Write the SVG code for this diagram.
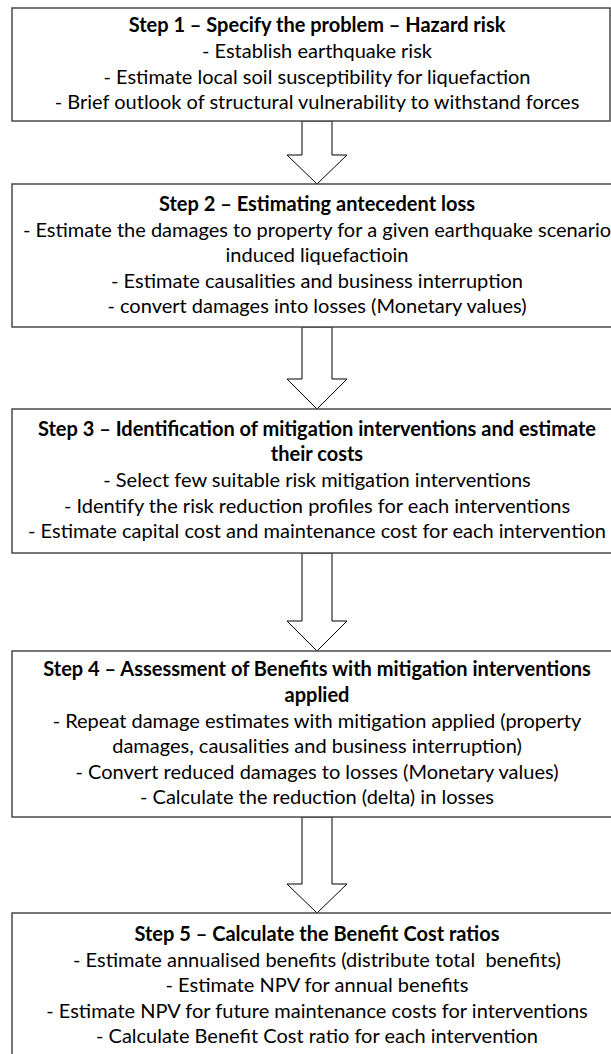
<svg xmlns="http://www.w3.org/2000/svg" width="611" height="1054" viewBox="0 0 611 1054">
<style>
.box{fill:#fff;stroke:#4a4a4a;stroke-width:1.5}
.arr{fill:#fff;stroke:#000;stroke-width:1}
text{font-family:Lato,"Open Sans","DejaVu Sans",sans-serif;font-size:20px;fill:#000;text-anchor:middle}
.t{font-weight:bold}
.pre{white-space:pre}
</style>
<rect width="611" height="1054" fill="#fff"/>
<g id="connectors">
<polygon class="arr" points="302,121 332,121 332,155 347,155 317,184 287,155 302,155"/>
<polygon class="arr" points="302,327 332,327 332,379 347,379 317,409 287,379 302,379"/>
<polygon class="arr" points="302,553 332,553 332,621 347,621 317,651 287,621 302,621"/>
<polygon class="arr" points="302,817 332,817 332,884 347,884 317,913 287,884 302,884"/>
</g>
<g id="step1">
<rect class="box" x="12" y="8" width="598" height="113"/>
<text class="t" x="317" y="32">Step 1 – Specify the problem – Hazard risk</text>
<text x="317" y="58">- Establish earthquake risk</text>
<text x="317" y="83.5">- Estimate local soil susceptibility for liquefaction</text>
<text x="317" y="109">- Brief outlook of structural vulnerability to withstand forces</text>
</g>
<g id="step2">
<rect class="box" x="12" y="184" width="612" height="143"/>
<text class="t" x="317" y="211">Step 2 – Estimating antecedent loss</text>
<text x="317" y="237">- Estimate the damages to property for a given earthquake scenario</text>
<text x="317" y="262">induced liquefactioin</text>
<text x="317" y="287.5">- Estimate causalities and business interruption</text>
<text x="317" y="313">- convert damages into losses (Monetary values)</text>
</g>
<g id="step3">
<rect class="box" x="12" y="409" width="612" height="144"/>
<text class="t" x="317" y="436">Step 3 – Identification of mitigation interventions and estimate</text>
<text class="t" x="317" y="461">their costs</text>
<text x="317" y="487">- Select few suitable risk mitigation interventions</text>
<text x="317" y="512.5">- Identify the risk reduction profiles for each interventions</text>
<text x="317" y="538">- Estimate capital cost and maintenance cost for each intervention</text>
</g>
<g id="step4">
<rect class="box" x="12" y="651" width="612" height="166"/>
<text class="t" x="317" y="676">Step 4 – Assessment of Benefits with mitigation interventions</text>
<text class="t" x="317" y="702">applied</text>
<text x="317" y="727.5">- Repeat damage estimates with mitigation applied (property</text>
<text x="317" y="753">damages, causalities and business interruption)</text>
<text x="317" y="778.5">- Convert reduced damages to losses (Monetary values)</text>
<text x="317" y="804">- Calculate the reduction (delta) in losses</text>
</g>
<g id="step5">
<rect class="box" x="12" y="913" width="612" height="150"/>
<text class="t" x="317" y="941">Step 5 – Calculate the Benefit Cost ratios</text>
<text class="pre" x="317" y="967">- Estimate annualised benefits (distribute total  benefits)</text>
<text x="317" y="992">- Estimate NPV for annual benefits</text>
<text x="317" y="1018">- Estimate NPV for future maintenance costs for interventions</text>
<text x="317" y="1043">- Calculate Benefit Cost ratio for each intervention</text>
</g>
</svg>
